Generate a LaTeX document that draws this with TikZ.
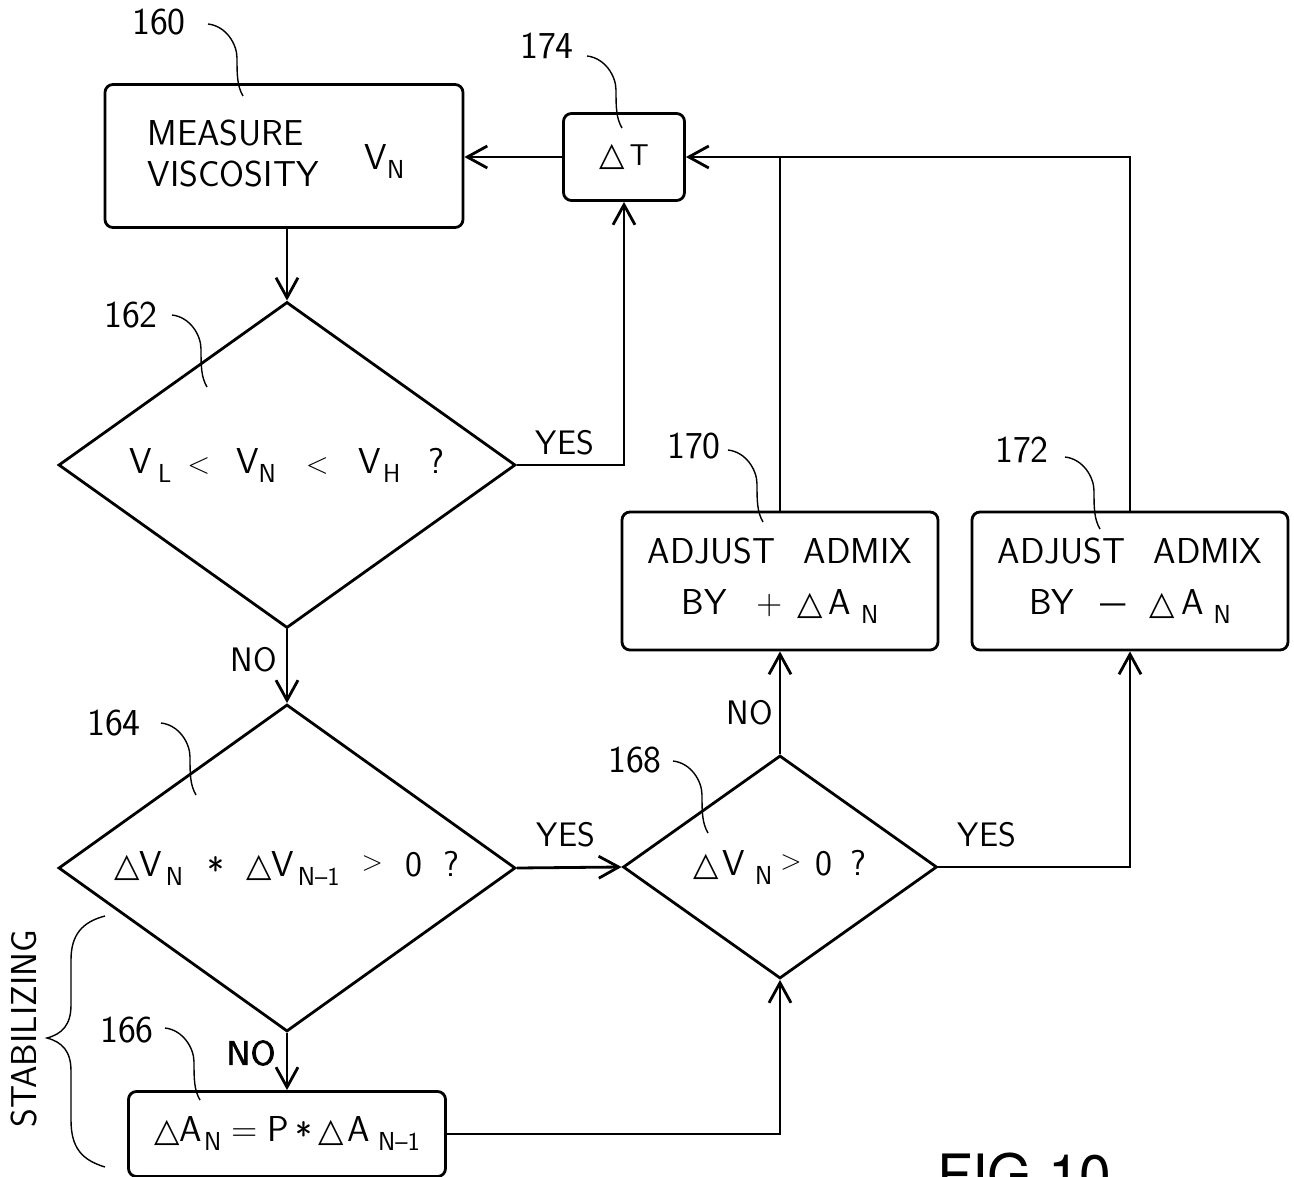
\documentclass[tikz,border=0pt]{standalone}
\usepackage{fontspec}
\usepackage{graphicx}
\newfontfamily\symfnt{DejaVu Sans}
\newfontfamily\figfnt{TeX Gyre Heros}
\newfontface\heavysans{lmsans10-regular.otf}[FakeBold=2]
\usetikzlibrary{arrows.meta}
\usetikzlibrary{shapes.geometric}

\newcommand{\subtx}[1]{\raisebox{-9pt}{\fontsize{26}{26}\selectfont #1}}
\newcommand{\dlta}{{\symfnt\fontsize{33}{33}\selectfont △}}
\newcommand{\ltsym}{{\fontsize{30}{30}\selectfont\textless}}
\newcommand{\gtsym}{\raisebox{6pt}{\fontsize{28}{28}\selectfont\textgreater}}
\newcommand{\starsym}{\raisebox{-7pt}{*}}
\newcommand{\dashsym}{\scalebox{1.5}[1]{\textendash}}
% reference number leader: S-shaped hairline from the number
\newcommand{\refline}[3]{\draw[lead] (#1.east) ++(#2,#3)
  .. controls +(18,2) and +(0,-14) .. ++(29,34)
  .. controls +(0,16) and +(-6,-10) .. ++(6,38);}

\begin{document}
\begin{tikzpicture}[x=1pt,y=-1pt]
  \tikzset{box/.style = {shape=rectangle,draw,rounded corners=8pt,line width=2.8pt,inner sep=0pt,align=center}}
  \tikzset{dia/.style = {shape=diamond,draw,aspect=1.4,line width=2.8pt,inner sep=0pt}}
  \tikzset{flow/.style = {-{Straight Barb[length=20pt,width=22pt]},line width=2.8pt}}
  \tikzset{lead/.style = {line width=1.4pt}}
  \tikzset{num/.style = {inner sep=0pt,anchor=east,font=\sffamily\fontsize{38}{38}\selectfont}}
  \tikzset{ans/.style = {inner sep=0pt,font=\sffamily\fontsize{34}{34}\selectfont}}
  \tikzset{every node/.append style = {font=\sffamily\fontsize{36}{51}\selectfont}}

  \useasboundingbox (0,0) rectangle (1294,1177);

  % boxes and decisions
  \node[box, minimum width=358pt, minimum height=143pt] (meas) at (284,156)
    {\begin{tabular}{@{}l@{}}MEASURE\\[-10pt]VISCOSITY\end{tabular}\hspace{46pt}\raisebox{-7pt}{V\subtx{N}}\hspace{16pt}};
  \node[box, minimum width=121pt, minimum height=87pt, font=\sffamily\fontsize{30}{30}\selectfont] (dT) at (624,157) {\dlta\hspace{5pt}T};
  \node[dia, minimum width=457pt, minimum height=326pt] (rng) at (287,465)
    {V\hspace{6pt}\subtx{L}\hspace{16pt}\ltsym\hspace{26pt}V\subtx{N}\hspace{30pt}\ltsym\hspace{30pt}V\hspace{2pt}\subtx{H}\hspace{28pt}?};
  \node[dia, minimum width=457pt, minimum height=327pt] (sgn) at (287,868)
    {\dlta V\hspace{4pt}\subtx{N}\hspace{24pt}\starsym\hspace{22pt}\dlta V\hspace{4pt}\subtx{N\textendash 1}\hspace{22pt}\gtsym\hspace{22pt}0\hspace{22pt}?};
  \node[dia, minimum width=314pt, minimum height=223pt] (pos) at (780,867)
    {\dlta\hspace{4pt}V\hspace{10pt}\subtx{N}\hspace{8pt}\gtsym\hspace{14pt}0\hspace{18pt}?};
  \node[box, minimum width=316pt, minimum height=138pt] (inc) at (780,581)
    {ADJUST\hspace{28pt}ADMIX\\BY\hspace{30pt}+\hspace{14pt}\dlta\hspace{6pt}A\hspace{10pt}\subtx{N}};
  \node[box, minimum width=316pt, minimum height=138pt] (dec) at (1130,581)
    {ADJUST\hspace{28pt}ADMIX\\BY\hspace{26pt}\dashsym\hspace{24pt}\dlta\hspace{6pt}A\hspace{10pt}\subtx{N}};
  \node[box, minimum width=317pt, minimum height=85pt] (stab) at (287,1134)
    {\dlta A\hspace{2pt}\subtx{N}\hspace{10pt}=\hspace{10pt}P\hspace{6pt}\starsym\hspace{6pt}\dlta\hspace{4pt}A\hspace{8pt}\subtx{N\textendash 1}};

  % flow
  \draw[flow] (rng.north |- meas.south) -- (rng.north);
  \draw[flow] (dT.west) -- (dT.west -| meas.east);
  \draw[flow] (rng.east) -| (dT.south);
  \draw[flow] (rng.south) -- (sgn.north);
  \draw[flow] (sgn.east) -- (pos.west);
  \draw[flow] (pos.north) -- (inc.south);
  \draw[flow] (pos.east) -| (dec.south);
  \draw[flow] (dec.north) |- (dT.east);
  \draw[line width=2.8pt] (inc.north) -- (inc.north |- dT.east);
  \draw[flow] (sgn.south) -- (stab.north);
  \draw[flow] (stab.east) -| (pos.south);

  \node[ans] (yes1) at (565,443) {YES};
  \node[ans] (no1) at (254,660) {NO};
  \node[ans] (yes2) at (566,835) {YES};
  \node[ans] (no2) at (750,713) {NO};
  \node[ans] (yes3) at (987,835) {YES};
  \node[ans, font=\heavysans\fontsize{34}{34}\selectfont] (no3) at (251,1053) {NO};

  % reference numbers
  \node[num] (n160) at (186,22) {160};
  \node[num] (n174) at (574,46) {174};
  \node[num] (n162) at (158,315) {162};
  \node[num] (n164) at (141,723) {164};
  \node[num] (n166) at (154,1030) {166};
  \node[num] (n168) at (662,760) {168};
  \node[num] (n170) at (721,446) {170};
  \node[num] (n172) at (1049,450) {172};
  \refline{n160}{22}{2}
  \refline{n174}{13}{10}
  \refline{n162}{14}{0}
  \refline{n164}{20}{0}
  \refline{n166}{11}{-2}
  \refline{n168}{11}{1}
  \refline{n170}{7}{4}
  \refline{n172}{16}{7}

  % stabilizing brace
  \node[rotate=90, inner sep=0pt] (stabl) at (24,1029) {STABILIZING};
  \draw[lead] (105,916) .. controls (82,922) and (71,935) .. (71,960) -- (71,1005)
    .. controls (71,1025) and (62,1034) .. (47,1038)
    .. controls (62,1042) and (71,1051) .. (71,1071) -- (71,1120)
    .. controls (71,1148) and (82,1160) .. (105,1167);

  \node[anchor=north west, inner sep=0pt, font=\figfnt\fontsize{57}{57}\selectfont] (fig) at (937,1153) {FIG 10};
\end{tikzpicture}
\end{document}
